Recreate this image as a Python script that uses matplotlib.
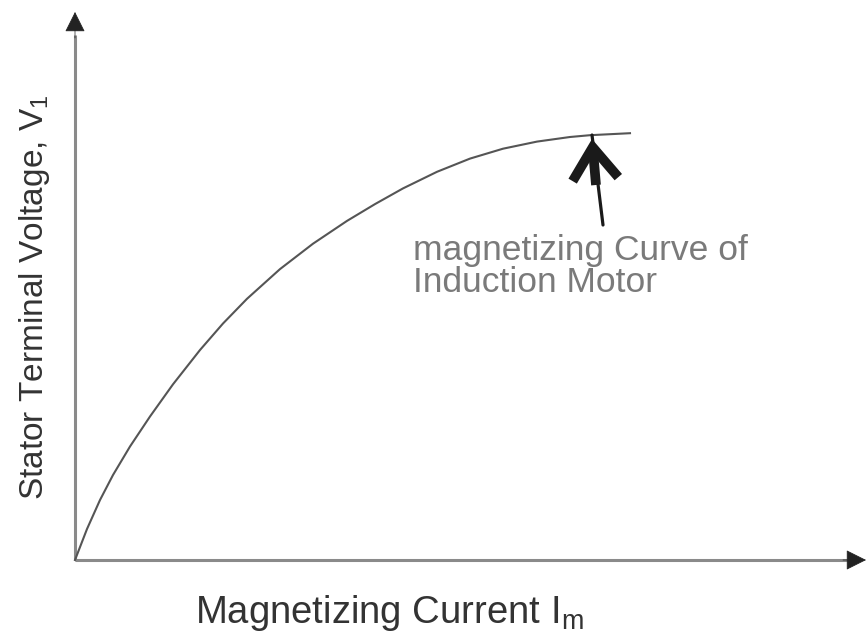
import matplotlib
matplotlib.use("Agg")
import matplotlib.pyplot as plt

# Magnetizing curve (arbitrary units)
current = [0.00, 0.12, 0.25, 0.38, 0.55, 0.75, 0.98, 1.25, 1.48, 1.72, 2.05,
           2.38, 2.72, 3.00, 3.28, 3.62, 3.95, 4.28, 4.62, 4.95, 5.15, 5.55]
voltage = [0.000, 0.310, 0.600, 0.850, 1.135, 1.435, 1.757, 2.100, 2.365, 2.612, 2.909,
           3.163, 3.391, 3.559, 3.716, 3.882, 4.014, 4.113, 4.184, 4.230, 4.248, 4.268]

x_label = "Magnetizing Current I$_\\mathregular{m}$"
y_label = "Stator Terminal Voltage, V$_\\mathregular{1}$"
note_lines = ["magnetizing Curve of", "Induction Motor"]

plt.rcParams['font.family'] = ['Liberation Sans', 'DejaVu Sans']

fig = plt.figure(figsize=(8.68, 6.38), dpi=100)
ax = fig.add_axes([0, 0, 1, 1])
ax.set_xlim(-0.75, 7.93)
ax.set_ylim(-0.78, 5.60)
ax.axis('off')

axis_col = '#8a8a8a'
head_col = '#222222'
# axes lines
ax.plot([0, 7.75], [0, 0], color=axis_col, lw=2.2, solid_capstyle='butt')
ax.plot([0, 0], [0, 5.25], color=axis_col, lw=2.2, solid_capstyle='butt')
ax.annotate('', xy=(7.91, 0), xytext=(7.68, 0),
            arrowprops=dict(arrowstyle='-|>,head_length=1.3,head_width=0.65',
                            color=head_col, lw=0.5, shrinkA=0, shrinkB=0))
ax.annotate('', xy=(0, 5.48), xytext=(0, 5.22),
            arrowprops=dict(arrowstyle='-|>,head_length=1.3,head_width=0.65',
                            color=head_col, lw=0.5, shrinkA=0, shrinkB=0))

# curve
ax.plot(current, voltage, color='#555555', lw=1.5)

# annotation arrow pointing at the knee of the curve
tip = (current[-2] + 0.02, 4.25)
ax.annotate('', xy=tip, xytext=(5.28, 3.35),
            arrowprops=dict(arrowstyle='-', color='#1a1a1a', lw=2.3,
                            shrinkA=0, shrinkB=0))
ax.annotate('', xy=(tip[0], tip[1] - 0.04), xytext=(tip[0] + 0.04, 3.75),
            arrowprops=dict(arrowstyle='->,head_length=2.3,head_width=1.65',
                            color='#1a1a1a', lw=7, shrinkA=0, shrinkB=0,
                            joinstyle='miter', capstyle='butt'))

ax.text(3.38, 3.00, note_lines[0], fontsize=25.5, color='#7a7a7a', ha='left', va='baseline')
ax.text(3.38, 2.68, note_lines[1], fontsize=25.5, color='#7a7a7a', ha='left', va='baseline')

fig.text(195 / 868, 1 - 623 / 638, x_label, fontsize=27.5, color='#333333',
         ha='left', va='baseline')
fig.text(43 / 868, 1 - 297.5 / 638, y_label, fontsize=24, color='#333333',
         ha='center', va='baseline', rotation=90, rotation_mode='anchor')

fig.savefig('out.png', dpi=100)
